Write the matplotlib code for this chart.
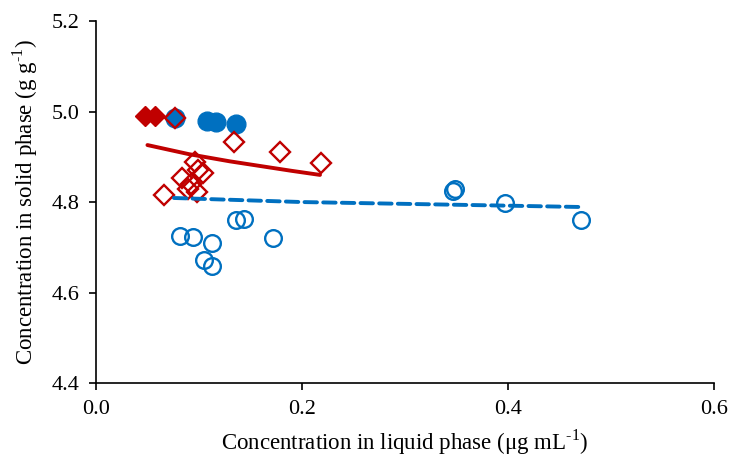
import numpy as np
import matplotlib
matplotlib.use("Agg")
import matplotlib.pyplot as plt

plt.rcParams['font.family'] = ['Liberation Serif', 'DejaVu Serif']
plt.rcParams['mathtext.fontset'] = 'custom'
plt.rcParams['mathtext.rm'] = 'Liberation Serif'

RED = '#C00000'
BLUE = '#0070C0'

# filled red diamonds
red_fill_x = [0.0476, 0.0573]
red_fill_y = [4.990, 4.990]

# open red diamonds
red_open_x = [0.0767, 0.066, 0.0835, 0.0961, 0.099, 0.1039, 0.0893, 0.098, 0.0922,
              0.134, 0.1786, 0.2184]
red_open_y = [4.986, 4.8155, 4.853, 4.888, 4.871, 4.864, 4.829, 4.822, 4.840,
              4.933, 4.910, 4.886]

# filled blue circles
blue_fill_x = [0.0767, 0.108, 0.1165, 0.136]
blue_fill_y = [4.985, 4.979, 4.977, 4.972]

# open blue circles
blue_open_x = [0.0816, 0.094, 0.1126, 0.105, 0.1126, 0.136, 0.1437, 0.172,
               0.3466, 0.3485, 0.397, 0.471]
blue_open_y = [4.725, 4.723, 4.709, 4.672, 4.659, 4.760, 4.762, 4.720,
               4.824, 4.829, 4.798, 4.760]

# fitted curves
red_fit_x = [0.050, 0.060, 0.070, 0.080, 0.090, 0.100, 0.115, 0.130,
             0.150, 0.170, 0.190, 0.2175]
red_fit_y = [4.926, 4.921, 4.916, 4.911, 4.906, 4.902, 4.896, 4.890,
             4.883, 4.876, 4.869, 4.860]

blue_fit_x = [0.0757, 0.200, 0.300, 0.400, 0.472]
blue_fit_y = [4.809, 4.800, 4.796, 4.792, 4.789]

fig = plt.figure(figsize=(7.38, 4.59), dpi=100)
ax = fig.add_axes([0.130, 0.1656, 0.8375, 0.7884])

ax.plot(blue_open_x, blue_open_y, 'o', ms=12, mfc='none', mec=BLUE, mew=1.7, zorder=3)
ax.plot(blue_fill_x, blue_fill_y, 'o', ms=13.5, color=BLUE, zorder=3)
ax.plot(red_fill_x, red_fill_y, 'D', ms=10, color=RED, zorder=3)
ax.plot(red_open_x, red_open_y, 'D', ms=10, mfc='none', mec=RED, mew=1.7, zorder=4)

ax.plot(red_fit_x, red_fit_y, '-', color=RED, lw=2.8, zorder=5,
        solid_capstyle='round')
ax.plot(blue_fit_x, blue_fit_y, '--', color=BLUE, lw=2.8, dashes=(3.2, 1.6),
        dash_capstyle='round', zorder=5)

ax.set_xlim(0, 0.6)
ax.set_ylim(4.4, 5.2)
ax.set_xticks([0.0, 0.2, 0.4, 0.6])
ax.set_yticks([4.4, 4.6, 4.8, 5.0, 5.2])
ax.xaxis.set_major_formatter(matplotlib.ticker.FormatStrFormatter('%.1f'))
ax.yaxis.set_major_formatter(matplotlib.ticker.FormatStrFormatter('%.1f'))

for s in ['top', 'right']:
    ax.spines[s].set_visible(False)
for s in ['left', 'bottom']:
    ax.spines[s].set_linewidth(1.2)

ax.tick_params(direction='out', length=5, width=1.2, labelsize=16, pad=7)

ax.set_xlabel(r'Concentration in liquid phase (μg mL$^{\text{-1}}$)', fontsize=16.5, labelpad=6)
ax.set_ylabel(r'Concentration in solid phase (g g$^{\text{-1}}$)', fontsize=16.5, labelpad=8)

fig.savefig('out.png', dpi=100)
